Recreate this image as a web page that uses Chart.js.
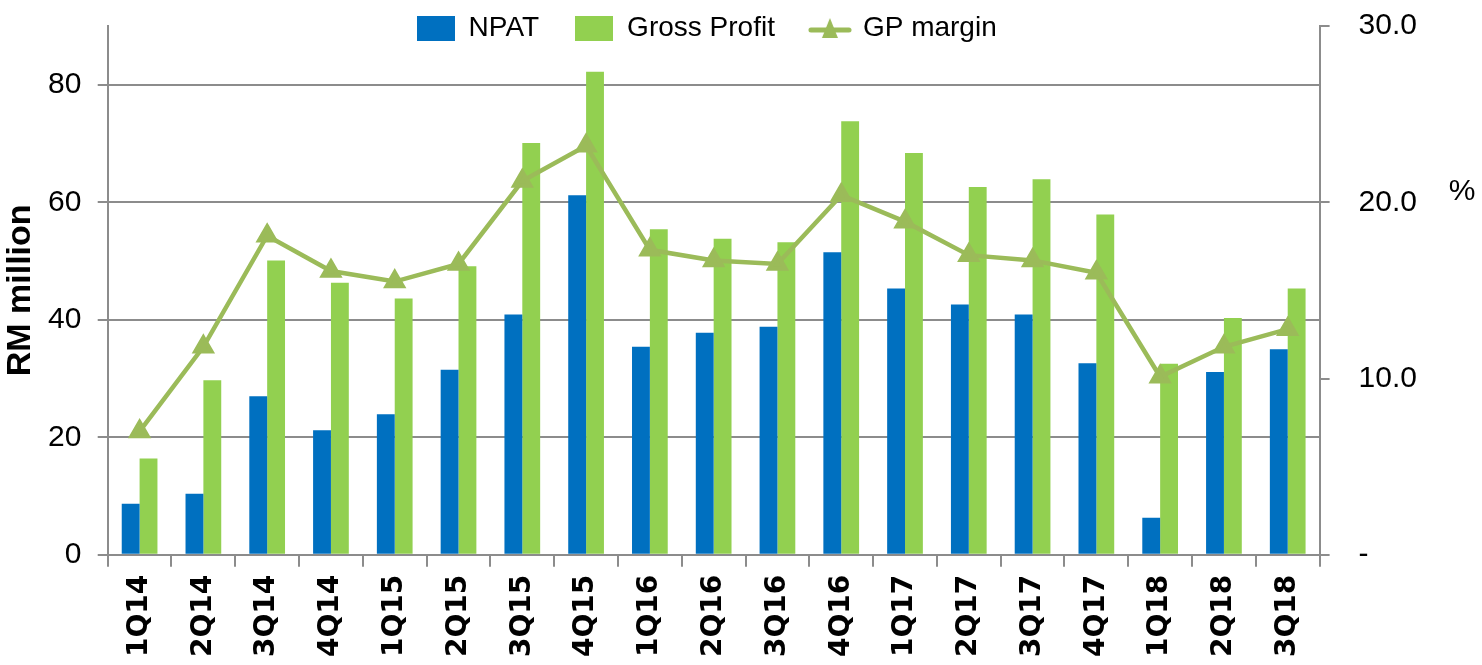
<!DOCTYPE html>
<html>
<head>
<meta charset="utf-8">
<script src="https://cdn.jsdelivr.net/npm/chart.js@4.4.1/dist/chart.umd.min.js"></script>
<style>
    html, body { margin: 0; padding: 0; background: #fff; }
    #wrap { width: 1482px; height: 665px; position: relative; }
</style>
</head>
<body>
<div id="wrap"><canvas id="myChart"></canvas></div>
<script>
// Данни, прочетени от графиката
const quarters = ['1Q14', '2Q14', '3Q14', '4Q14', '1Q15', '2Q15', '3Q15', '4Q15', '1Q16', '2Q16',
    '3Q16', '4Q16', '1Q17', '2Q17', '3Q17', '4Q17', '1Q18', '2Q18', '3Q18'];
const npat = [8.7, 10.4, 27.0, 21.2, 23.9, 31.5, 40.9, 61.2, 35.4, 37.8,
    38.8, 51.5, 45.3, 42.6, 40.9, 32.6, 6.3, 31.1, 35.0];
const grossProfit = [16.4, 29.7, 50.1, 46.3, 43.6, 49.1, 70.1, 82.2, 55.4, 53.8,
    53.2, 73.8, 68.4, 62.6, 63.9, 57.9, 32.5, 40.3, 45.3];
const gpMargin = [7.0, 11.8, 18.1, 16.1, 15.5, 16.5, 21.2, 23.2, 17.3, 16.7,
    16.5, 20.4, 18.9, 17.0, 16.7, 16.0, 10.1, 11.8, 12.8];
const leftTicks = [0, 20, 40, 60, 80];
const rightTicks = [0, 10, 20, 30];

const blue = '#0070C0';
const green = '#92D050';
const olive = '#9BBB59';
const gridGray = '#8c8c8c';
const sans = "'Liberation Sans', Arial, sans-serif";

// Иконки за легендата
function makeBox(color) {
    const c = document.createElement('canvas');
    c.width = 38; c.height = 25;
    const ctx = c.getContext('2d');
    ctx.fillStyle = color;
    ctx.fillRect(0, 0, 38, 25);
    return c;
}
function makeLineIcon() {
    const c = document.createElement('canvas');
    c.width = 44; c.height = 26;
    const ctx = c.getContext('2d');
    ctx.strokeStyle = olive;
    ctx.lineWidth = 5;
    ctx.lineCap = 'round';
    ctx.beginPath(); ctx.moveTo(3, 15); ctx.lineTo(41, 15); ctx.stroke();
    ctx.fillStyle = olive;
    ctx.beginPath(); ctx.moveTo(22, 3); ctx.lineTo(30, 23); ctx.lineTo(14, 23); ctx.closePath(); ctx.fill();
    return c;
}
const legendIcons = [makeBox(blue), makeBox(green), makeLineIcon()];

// Легендата стои вътре в графиката (не заема място отгоре), а "%" е вдясно
const extras = {
    id: 'extras',
    beforeLayout(chart) {
        const legend = chart.legend;
        if (legend && !legend._noHeight) {
            const origFit = legend.fit;
            legend.fit = function () {
                origFit.call(this);
                this.height = 0;
            };
            legend._noHeight = true;
        }
    },
    afterLayout(chart) {
        const legend = chart.legend;
        legend.top = -22;
        legend.bottom = 80;
        legend.height = 102;
        legend.left = chart.chartArea.left - 14;
        legend.right = chart.chartArea.right;
    },
    afterDraw(chart) {
        const ctx = chart.ctx;
        const y = chart.scales.y1.getPixelForValue(20.6);
        ctx.save();
        ctx.font = '30px ' + sans;
        ctx.fillStyle = '#000';
        ctx.textAlign = 'center';
        ctx.textBaseline = 'middle';
        ctx.fillText('%', chart.width - 20, y);
        ctx.restore();
    }
};

new Chart(document.getElementById('myChart'), {
    type: 'bar',
    data: {
        labels: quarters,
        datasets: [
            {
                label: 'NPAT',
                data: npat,
                backgroundColor: blue,
                yAxisID: 'y',
                order: 1
            },
            {
                label: 'Gross Profit',
                data: grossProfit,
                backgroundColor: green,
                yAxisID: 'y',
                order: 1
            },
            {
                type: 'line',
                label: 'GP margin',
                data: gpMargin,
                borderColor: olive,
                backgroundColor: olive,
                borderWidth: 4.5,
                pointStyle: 'triangle',
                pointRadius: 9,
                pointBackgroundColor: olive,
                pointBorderColor: olive,
                tension: 0,
                yAxisID: 'y1',
                order: 0
            }
        ]
    },
    options: {
        animation: false,
        responsive: true,
        maintainAspectRatio: false,
        layout: { padding: { top: 0, right: 61, bottom: 0, left: 4 } },
        datasets: {
            bar: { categoryPercentage: 0.56, barPercentage: 1.0 }
        },
        scales: {
            x: {
                grid: { drawOnChartArea: false, offset: true, tickLength: 12, color: gridGray, lineWidth: 2 },
                border: { color: gridGray, width: 2 },
                ticks: {
                    maxRotation: 90, minRotation: 90, padding: 8,
                    color: '#000',
                    font: { family: "'DejaVu Sans', sans-serif", weight: 'bold', size: 28 }
                }
            },
            y: {
                position: 'left',
                min: 0, max: 90,
                afterBuildTicks: scale => { scale.ticks = leftTicks.map(v => ({ value: v })); },
                grid: { color: gridGray, lineWidth: 2, tickLength: 10 },
                border: { color: gridGray, width: 2 },
                ticks: {
                    padding: 8, color: '#000',
                    font: { family: sans, size: 30 },
                    // интервалът отдалечава надписа от оста, без да добавя място отгоре
                    callback: v => v + ' '
                },
                title: {
                    display: true, text: 'RM million', color: '#000',
                    padding: { top: 0, bottom: 2 },
                    font: { family: sans, weight: 'bold', size: 34, lineHeight: 1.0 }
                }
            },
            y1: {
                position: 'right',
                min: 0, max: 30,
                afterBuildTicks: scale => { scale.ticks = rightTicks.map(v => ({ value: v })); },
                grid: { drawOnChartArea: false, color: gridGray, lineWidth: 2, tickLength: 10 },
                border: { color: gridGray, width: 2 },
                ticks: {
                    padding: 4, color: '#000',
                    font: { family: sans, size: 30 },
                    callback: v => '   ' + (v === 0 ? '-' : v.toFixed(1))
                }
            }
        },
        plugins: {
            legend: {
                position: 'top',
                labels: {
                    usePointStyle: true,
                    pointStyleWidth: 38,
                    boxHeight: 26,
                    padding: 36,
                    color: '#000',
                    font: { family: sans, size: 28 },
                    sort: (a, b) => a.datasetIndex - b.datasetIndex,
                    generateLabels: chart => {
                        const items = Chart.defaults.plugins.legend.labels.generateLabels(chart);
                        items.forEach(it => { it.pointStyle = legendIcons[it.datasetIndex]; });
                        return items;
                    }
                }
            },
            tooltip: { enabled: false }
        }
    },
    plugins: [extras]
});
</script>
</body>
</html>
